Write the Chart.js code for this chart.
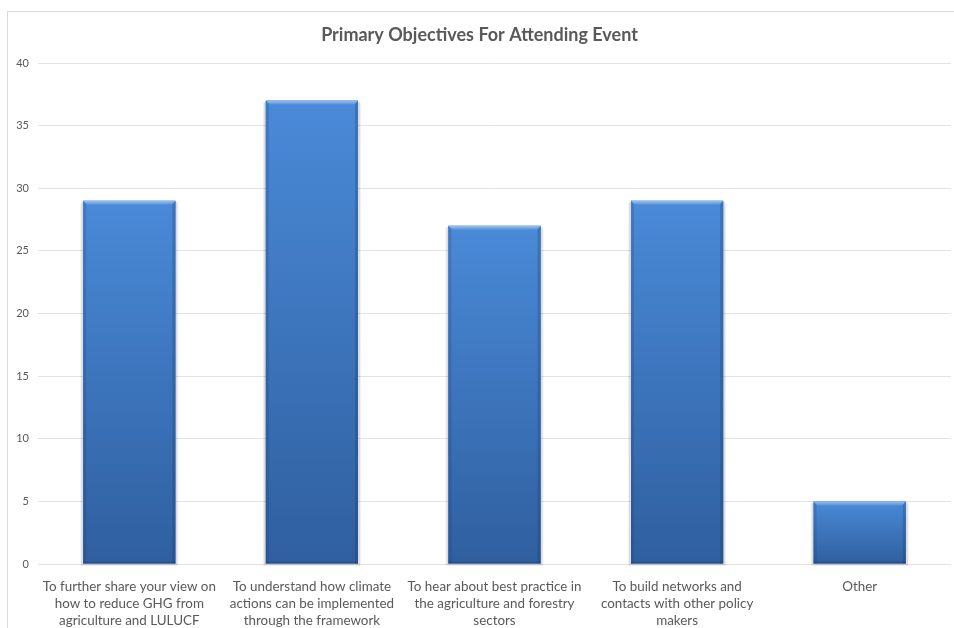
<!DOCTYPE html>
<html>
<head>
<meta charset="utf-8">
<script src="https://cdn.jsdelivr.net/npm/chart.js@4"></script>
<style>
  html, body { margin: 0; padding: 0; background: #ffffff; }
  #wrap { width: 954px; height: 628px; position: relative; }
</style>
</head>
<body>
<div id="wrap"><canvas id="c" width="954" height="628"></canvas></div>
<script>
// Survey responses: primary objectives for attending the event
const categories = [
  ['To further share your view on', 'how to reduce GHG from', 'agriculture and LULUCF'],
  ['To understand how climate', 'actions can be implemented', 'through the framework'],
  ['To hear about best practice in', 'the agriculture and forestry', 'sectors'],
  ['To build networks and', 'contacts with other policy', 'makers'],
  ['Other']
];
const responses = [29, 37, 27, 29, 5];
const yTicks = [0, 5, 10, 15, 20, 25, 30, 35, 40];

const FONT = "Lato, 'Open Sans', sans-serif";
const TEXT = '#595959';

// outer frame of the chart
const framePlugin = {
  id: 'frame',
  beforeDraw(chart) {
    const c = chart.ctx;
    c.save();
    c.strokeStyle = '#d9d9d9';
    c.lineWidth = 1;
    c.strokeRect(7.5, 11.5, 1000, 1000);
    c.restore();
  }
};

// gradient fill, bevelled edges and soft shadow on each bar
const bevelPlugin = {
  id: 'bevel',
  beforeDatasetsDraw(chart) {
    const c = chart.ctx;
    chart.getDatasetMeta(0).data.forEach(bar => {
      const w = bar.width, x0 = bar.x - w / 2, y0 = bar.y, h = bar.base - bar.y;
      c.save();
      c.fillStyle = 'rgba(0,0,0,0.09)';
      c.fillRect(x0 - 2, y0 + 1, w + 4, h + 1);
      c.fillStyle = 'rgba(0,0,0,0.05)';
      c.fillRect(x0 - 3, y0 + 2, w + 6, h);
      c.restore();
    });
  },
  afterDatasetsDraw(chart) {
    const c = chart.ctx;
    chart.getDatasetMeta(0).data.forEach(bar => {
      const w = bar.width, x0 = bar.x - w / 2, x1 = bar.x + w / 2, y0 = bar.y, y1 = bar.base;
      const b = 4;
      c.save();
      // body gradient, lighter at the top
      const g = c.createLinearGradient(0, y0, 0, y1);
      g.addColorStop(0, '#4a8ad8');
      g.addColorStop(1, '#2f5f9f');
      c.fillStyle = g;
      c.fillRect(x0, y0, w, y1 - y0);
      // top bevel (light)
      c.beginPath();
      c.moveTo(x0, y0); c.lineTo(x1, y0); c.lineTo(x1 - b, y0 + b); c.lineTo(x0 + b, y0 + b); c.closePath();
      const gt = c.createLinearGradient(0, y0, 0, y0 + b);
      gt.addColorStop(0, 'rgba(165,200,242,0.95)');
      gt.addColorStop(1, 'rgba(110,160,225,0.5)');
      c.fillStyle = gt; c.fill();
      // left bevel
      c.beginPath();
      c.moveTo(x0, y0); c.lineTo(x0 + b - 1, y0 + b); c.lineTo(x0 + b - 1, y1); c.lineTo(x0, y1); c.closePath();
      c.fillStyle = 'rgba(20,50,100,0.18)'; c.fill();
      // right bevel
      c.beginPath();
      c.moveTo(x1, y0); c.lineTo(x1 - b + 1, y0 + b); c.lineTo(x1 - b + 1, y1); c.lineTo(x1, y1); c.closePath();
      c.fillStyle = 'rgba(20,50,100,0.25)'; c.fill();
      // bottom edge
      c.fillStyle = 'rgba(20,45,90,0.25)';
      c.fillRect(x0, y1 - 2, w, 2);
      c.restore();
    });
  }
};

new Chart(document.getElementById('c'), {
  type: 'bar',
  data: {
    labels: categories,
    datasets: [{
      data: responses,
      backgroundColor: '#3d74bb',
      borderWidth: 0,
      categoryPercentage: 1.0,
      barPercentage: 0.505
    }]
  },
  plugins: [framePlugin, bevelPlugin],
  options: {
    responsive: false,
    animation: false,
    events: [],
    layout: { padding: { top: 24, left: 8, right: 3, bottom: 0 } },
    plugins: {
      legend: { display: false },
      tooltip: { enabled: false },
      title: {
        display: true,
        text: 'Primary Objectives For Attending Event',
        color: TEXT,
        font: { family: FONT, size: 18, weight: 'bold', lineHeight: 1.2 },
        padding: { top: 0, bottom: 17.4 }
      }
    },
    scales: {
      x: {
        grid: { display: false },
        border: { display: false },
        ticks: {
          color: TEXT,
          font: { family: FONT, size: 13.4, lineHeight: 1.27 },
          padding: 6,
          maxRotation: 0,
          autoSkip: false
        },
        afterFit(s) { s.height = 64; }
      },
      y: {
        min: 0,
        max: 40,
        afterBuildTicks(s) { s.ticks = yTicks.map(v => ({ value: v })); },
        grid: { color: '#e3e3e3', drawTicks: false, lineWidth: 1 },
        border: { display: false },
        ticks: {
          color: TEXT,
          font: { family: FONT, size: 11 },
          padding: 9
        },
        afterFit(s) { s.width = 30; }
      }
    }
  }
});
</script>
</body>
</html>
